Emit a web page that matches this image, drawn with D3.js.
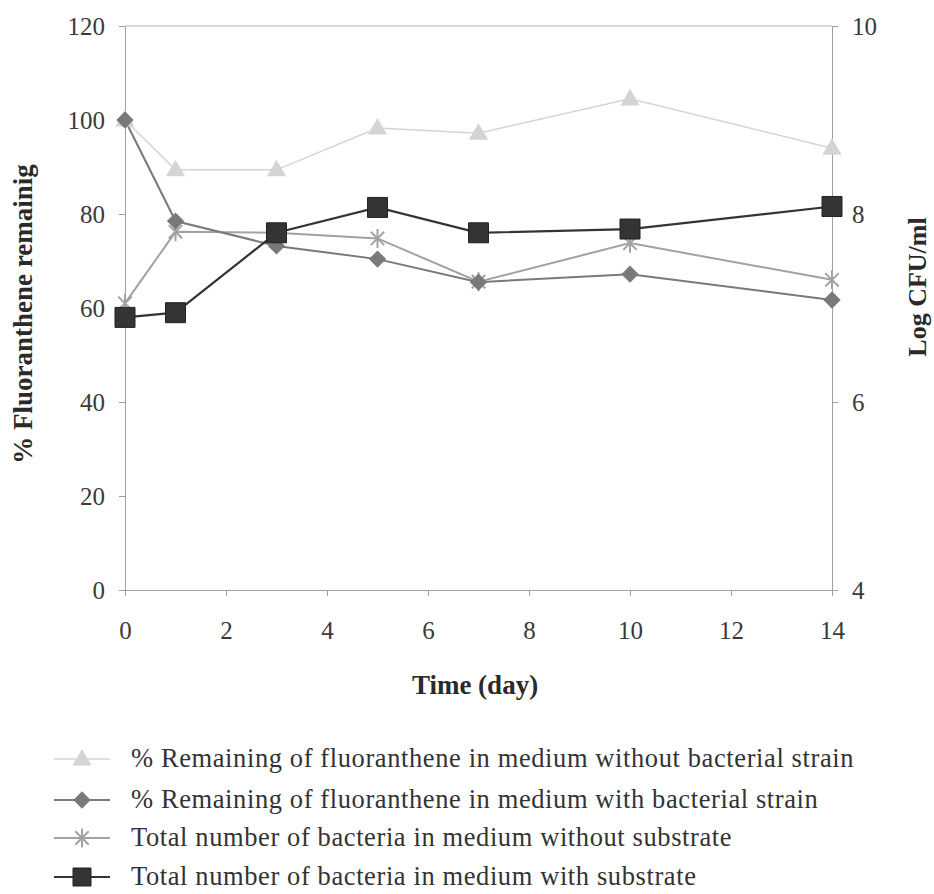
<!DOCTYPE html>
<html><head><meta charset="utf-8">
<script src="https://cdn.jsdelivr.net/npm/d3@7"></script>
<style>body{margin:0;background:#fff;} svg{display:block;}</style>
</head><body>
<script>
const days = [0, 1, 3, 5, 7, 10, 14];
const remainingWithout = [100, 89.4, 89.4, 98.3, 97.2, 104.5, 94.0];
const remainingWith = [100, 78.5, 73.2, 70.4, 65.5, 67.2, 61.7];
const bacteriaWithout = [7.05, 7.81, 7.80, 7.74, 7.28, 7.69, 7.30];
const bacteriaWith = [6.90, 6.95, 7.80, 8.07, 7.80, 7.84, 8.08];
const xTicks = [0, 2, 4, 6, 8, 10, 12, 14];
const leftTicks = [0, 20, 40, 60, 80, 100, 120];
const rightTicks = [4, 6, 8, 10];
const legendLabels = [
  "% Remaining of fluoranthene in medium without bacterial strain",
  "% Remaining of fluoranthene in medium with bacterial strain",
  "Total number of bacteria in medium without substrate",
  "Total number of bacteria in medium with substrate"
];

const W = 934, H = 894;
const svg = d3.select("body").append("svg").attr("width", W).attr("height", H);
const font = "'Liberation Serif', 'Times New Roman', serif";

const x = d3.scaleLinear().domain([0, 14]).range([125, 832]);
const yL = d3.scaleLinear().domain([0, 120]).range([590, 26]);
const yR = d3.scaleLinear().domain([4, 10]).range([590, 26]);

const axisColor = "#a0a0a0";
svg.append("line").attr("x1", 125).attr("x2", 832).attr("y1", 26).attr("y2", 26)
  .attr("stroke", "#b4b4b4").attr("stroke-width", 1);

function styleAxis(g) {
  g.select(".domain").attr("stroke", axisColor);
  g.selectAll(".tick line").attr("stroke", axisColor);
  g.selectAll(".tick text").attr("fill", "#3a3a3a").attr("font-family", font).attr("font-size", 25);
}

svg.append("g").attr("transform", "translate(0,590)")
  .call(d3.axisBottom(x).tickValues(xTicks).tickFormat(d3.format("d")).tickSize(6).tickSizeOuter(0).tickPadding(25))
  .call(styleAxis);
svg.append("g").attr("transform", "translate(125,0)")
  .call(d3.axisLeft(yL).tickValues(leftTicks).tickFormat(d3.format("d")).tickSize(6).tickSizeOuter(0).tickPadding(14))
  .call(styleAxis);
svg.append("g").attr("transform", "translate(832,0)")
  .call(d3.axisRight(yR).tickValues(rightTicks).tickFormat(d3.format("d")).tickSize(6).tickSizeOuter(0).tickPadding(14))
  .call(styleAxis);

// Axis titles
svg.append("text").attr("x", 475).attr("y", 694).attr("text-anchor", "middle")
  .attr("font-family", font).attr("font-weight", "bold").attr("font-size", 27).attr("fill", "#2a2a2a")
  .text("Time (day)");
svg.append("text").attr("transform", "translate(32,314) rotate(-90)").attr("text-anchor", "middle")
  .attr("font-family", font).attr("font-weight", "bold").attr("font-size", 27).attr("fill", "#2a2a2a")
  .text("% Fluoranthene remainig");
svg.append("text").attr("transform", "translate(926,287) rotate(-90)").attr("text-anchor", "middle")
  .attr("font-family", font).attr("font-weight", "bold").attr("font-size", 26).attr("fill", "#2a2a2a")
  .text("Log CFU/ml");

const series = [
  {vals: remainingWithout, y: yL, color: "#d4d4d4", type: "triangle", sw: 1.5},
  {vals: bacteriaWithout, y: yR, color: "#a2a2a2", type: "star", sw: 2},
  {vals: remainingWith, y: yL, color: "#797979", type: "diamond", sw: 2},
  {vals: bacteriaWith, y: yR, color: "#343434", type: "square", sw: 2.2}
];

function drawMarker(g, s, cx, cy, scale) {
  scale = scale || 1;
  if (s.type === "star") {
    const r = 9.5 * scale;
    const p = d3.path();
    [Math.PI / 4, 3 * Math.PI / 4, Math.PI / 2].forEach(a => {
      p.moveTo(cx - r * Math.cos(a), cy - r * Math.sin(a));
      p.lineTo(cx + r * Math.cos(a), cy + r * Math.sin(a));
    });
    g.append("path").attr("d", p.toString()).attr("stroke", s.color).attr("stroke-width", 2).attr("fill", "none");
  } else if (s.type === "triangle") {
    g.append("path").attr("d", d3.symbol().type(d3.symbolTriangle).size(160 * scale * scale)())
      .attr("transform", `translate(${cx},${cy + 1})`).attr("fill", s.color);
  } else if (s.type === "diamond") {
    g.append("path").attr("d", d3.symbol().type(d3.symbolSquare).size(150 * scale * scale)())
      .attr("transform", `translate(${cx},${cy}) rotate(45)`).attr("fill", s.color);
  } else {
    g.append("path").attr("d", d3.symbol().type(d3.symbolSquare).size(400 * scale * scale)())
      .attr("transform", `translate(${cx},${cy})`).attr("fill", s.color)
      .attr("stroke", "#222").attr("stroke-width", 1);
  }
}

series.forEach(s => {
  const line = d3.line().x((d, j) => x(days[j])).y(d => s.y(d));
  svg.append("path").datum(s.vals).attr("d", line).attr("fill", "none")
    .attr("stroke", s.color).attr("stroke-width", s.sw);
});
series.forEach(s => {
  const g = svg.append("g");
  s.vals.forEach((v, j) => drawMarker(g, s, x(days[j]), s.y(v)));
});

// Legend
const legendOrder = [0, 2, 1, 3];
const legY = [759, 800, 838, 877];
legendOrder.forEach((si, k) => {
  const s = series[si];
  const cy = legY[k];
  const g = svg.append("g");
  g.append("line").attr("x1", 54).attr("x2", 110).attr("y1", cy).attr("y2", cy)
    .attr("stroke", s.color).attr("stroke-width", s.sw);
  drawMarker(g, s, 82, cy, s.type === "square" ? 0.9 : 1);
  g.append("text").attr("x", 131).attr("y", cy + 8).attr("font-family", font)
    .attr("font-size", 26.5).attr("letter-spacing", 0.6).attr("fill", "#333").text(legendLabels[k]);
});
</script>
</body></html>
